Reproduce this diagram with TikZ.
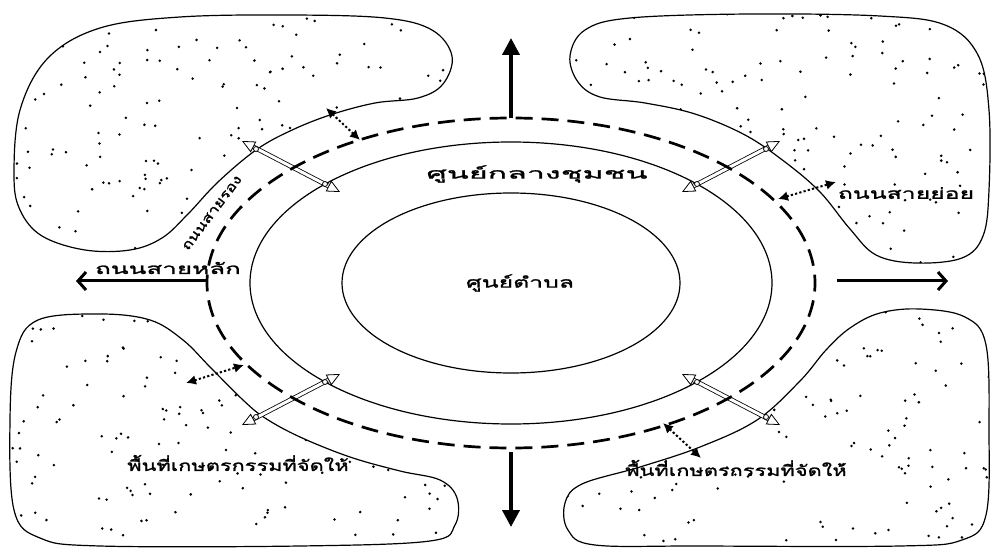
\documentclass[tikz,border=0pt]{standalone}
\usepackage{graphicx}
\usepackage{fontspec}
\newfontfamily\thai[Script=Thai,FakeStretch=1.65,FakeBold=1.5]{Loma}
\usetikzlibrary{arrows.meta}
\def\blobTL{plot[smooth cycle,tension=0.6] coordinates {(14,175) (20,110) (48,58) (100,28) (180,17) (290,15) (385,18) (432,30) (452,56) (443,84) (418,98) (375,103) (330,115) (290,131) (256,150) (218,182) (188,214) (162,238) (130,250) (85,250) (42,236) (20,210)}}
\def\blobTR{plot[smooth cycle,tension=0.6] coordinates {(600,97) (578,82) (570,56) (585,30) (630,18) (750,14) (880,16) (945,25) (978,55) (989,110) (989,190) (983,236) (962,258) (915,263) (876,255) (850,229) (820,192) (785,162) (745,135) (695,114) (645,103)}}
\def\blobBR{plot[smooth cycle,tension=0.6] coordinates {(880,313) (920,309) (965,317) (986,345) (989,430) (986,515) (962,540) (900,546) (700,546) (595,545) (568,530) (565,503) (582,484) (640,467) (700,447) (757,420) (800,381) (826,350) (850,328)}}
\def\blobBL{plot[smooth cycle,tension=0.6] coordinates {(16,352) (38,320) (100,314) (150,320) (183,340) (210,367) (243,400) (265,418) (300,437) (350,457) (400,471) (440,480) (457,498) (455,525) (430,541) (300,546) (100,546) (40,538) (14,510) (10,420)}}
\newcommand\speckle[5]{%
  \begin{scope}
    \clip #1;
    \foreach \k in {1,...,170}{%
      \pgfmathsetmacro\px{#2+(#3-#2)*rnd}%
      \pgfmathsetmacro\py{#4+(#5-#4)*rnd}%
      \fill (\px,\py) circle (1.4);}
  \end{scope}}
\tikzset{
  blobline/.style={draw,line width=1.2pt},
  ringline/.style={draw,line width=1.2pt},
  roadline/.style={line width=2.7pt,dash pattern=on 17pt off 8.97pt,dash phase=8.5pt},
  bigarrow/.style={line width=3.8pt,-{Triangle[length=17pt,width=17pt]}},
  sidearrow/.style={line width=3pt,-{Straight Barb[length=8pt,width=18pt]}},
  smallarrow/.style={line width=2pt,dash pattern=on 2.2pt off 2.2pt,{Latex[length=10pt,width=10pt]}-{Latex[length=10pt,width=10pt]}},
  whitearrow/.style={double=white,double distance=3pt,line width=0.8pt,
    {Triangle[open,fill=white,length=13pt,width=12pt,line width=0.8pt]}-{Triangle[open,fill=white,length=13pt,width=12pt,line width=0.8pt]}},
  joint/.style={circle,draw,fill=white,line width=0.8pt,inner sep=0pt,minimum size=5pt},
  lbl/.style={font=\thai\fontsize{15}{17}\selectfont,inner sep=0pt}
}
\begin{document}
\begin{tikzpicture}[x=1pt,y=-1pt]
\useasboundingbox (0,0) rectangle (994,548);
\pgfmathsetseed{11}
% blobs with speckles
\speckle{\blobTL}{10}{455}{14}{252}
\speckle{\blobTR}{565}{990}{12}{265}
\speckle{\blobBL}{8}{460}{312}{548}
\speckle{\blobBR}{562}{990}{307}{548}
\draw[blobline] \blobTL;
\draw[blobline] \blobTR;
\draw[blobline] \blobBL;
\draw[blobline] \blobBR;
% rings
\draw[ringline] (511,283) ellipse [x radius=261, y radius=141];
\draw[ringline] (511,283) ellipse [x radius=169, y radius=90];
% white double arrows
\coordinate (w1a) at (242,141); \coordinate (w1b) at (340,192);
\coordinate (w2a) at (780,141); \coordinate (w2b) at (682,192);
\coordinate (w3a) at (242,425); \coordinate (w3b) at (340,374);
\coordinate (w4a) at (780,425); \coordinate (w4b) at (682,374);
\draw[whitearrow] (w1a) -- (w1b);
\draw[whitearrow] (w2a) -- (w2b);
\draw[whitearrow] (w3a) -- (w3b);
\draw[whitearrow] (w4a) -- (w4b);
% dashed road
\draw[roadline] (511,283) ellipse [x radius=304, y radius=165];
\node[joint] (j1) at (256,149) {};
\node[joint] (j2) at (325,184) {};
\node[joint] (j3) at (766,149) {};
\node[joint] (j4) at (697,184) {};
\node[joint] (j5) at (256,417) {};
\node[joint] (j6) at (325,382) {};
\node[joint] (j7) at (766,417) {};
\node[joint] (j8) at (697,382) {};
% big arrows
\coordinate (t0) at (511,118); \coordinate (t1) at (511,38);
\coordinate (b0) at (511,452); \coordinate (b1) at (511,527);
\coordinate (l0) at (207,281); \coordinate (l1) at (76,281);
\coordinate (r0) at (837,281); \coordinate (r1) at (948,281);
\draw[bigarrow] (t0) -- (t1);
\draw[bigarrow] (b0) -- (b1);
\draw[sidearrow] (l0) -- (l1);
\draw[sidearrow] (r0) -- (r1);
% small access arrows
\coordinate (s1a) at (326,108); \coordinate (s1b) at (360,140);
\coordinate (s2a) at (778,199); \coordinate (s2b) at (836,182);
\coordinate (s3a) at (186,383); \coordinate (s3b) at (244,365);
\coordinate (s4a) at (663,423); \coordinate (s4b) at (701,458);
\draw[smallarrow] (s1a) -- (s1b);
\draw[smallarrow] (s2a) -- (s2b);
\draw[smallarrow] (s3a) -- (s3b);
\draw[smallarrow] (s4a) -- (s4b);
% labels
\node[lbl] (tcenter) at (520,283) {ศูนย์ตำบล};
\node[lbl] (tcomm) at (537,174) {\scalebox{1.3}[1]{ศูนย์กลางชุมชน}};
\node[lbl] (tmain) at (168,268) {\scalebox{1.05}[1]{ถนนสายหลัก}};
\node[lbl] (tminor) at (906,193) {ถนนสายย่อย};
\node[lbl,rotate=53] (tsec) at (212,213) {\scalebox{0.68}[0.9]{ถนนสายรอง}};
\node[lbl] (tagl) at (238,463) {\scalebox{0.88}[1]{พื้นที่เกษตรกรรมที่จัดให้}};
\node[lbl] (tagr) at (736,468) {\scalebox{0.88}[1]{พื้นที่เกษตรกรรมที่จัดให้}};
\end{tikzpicture}
\end{document}
